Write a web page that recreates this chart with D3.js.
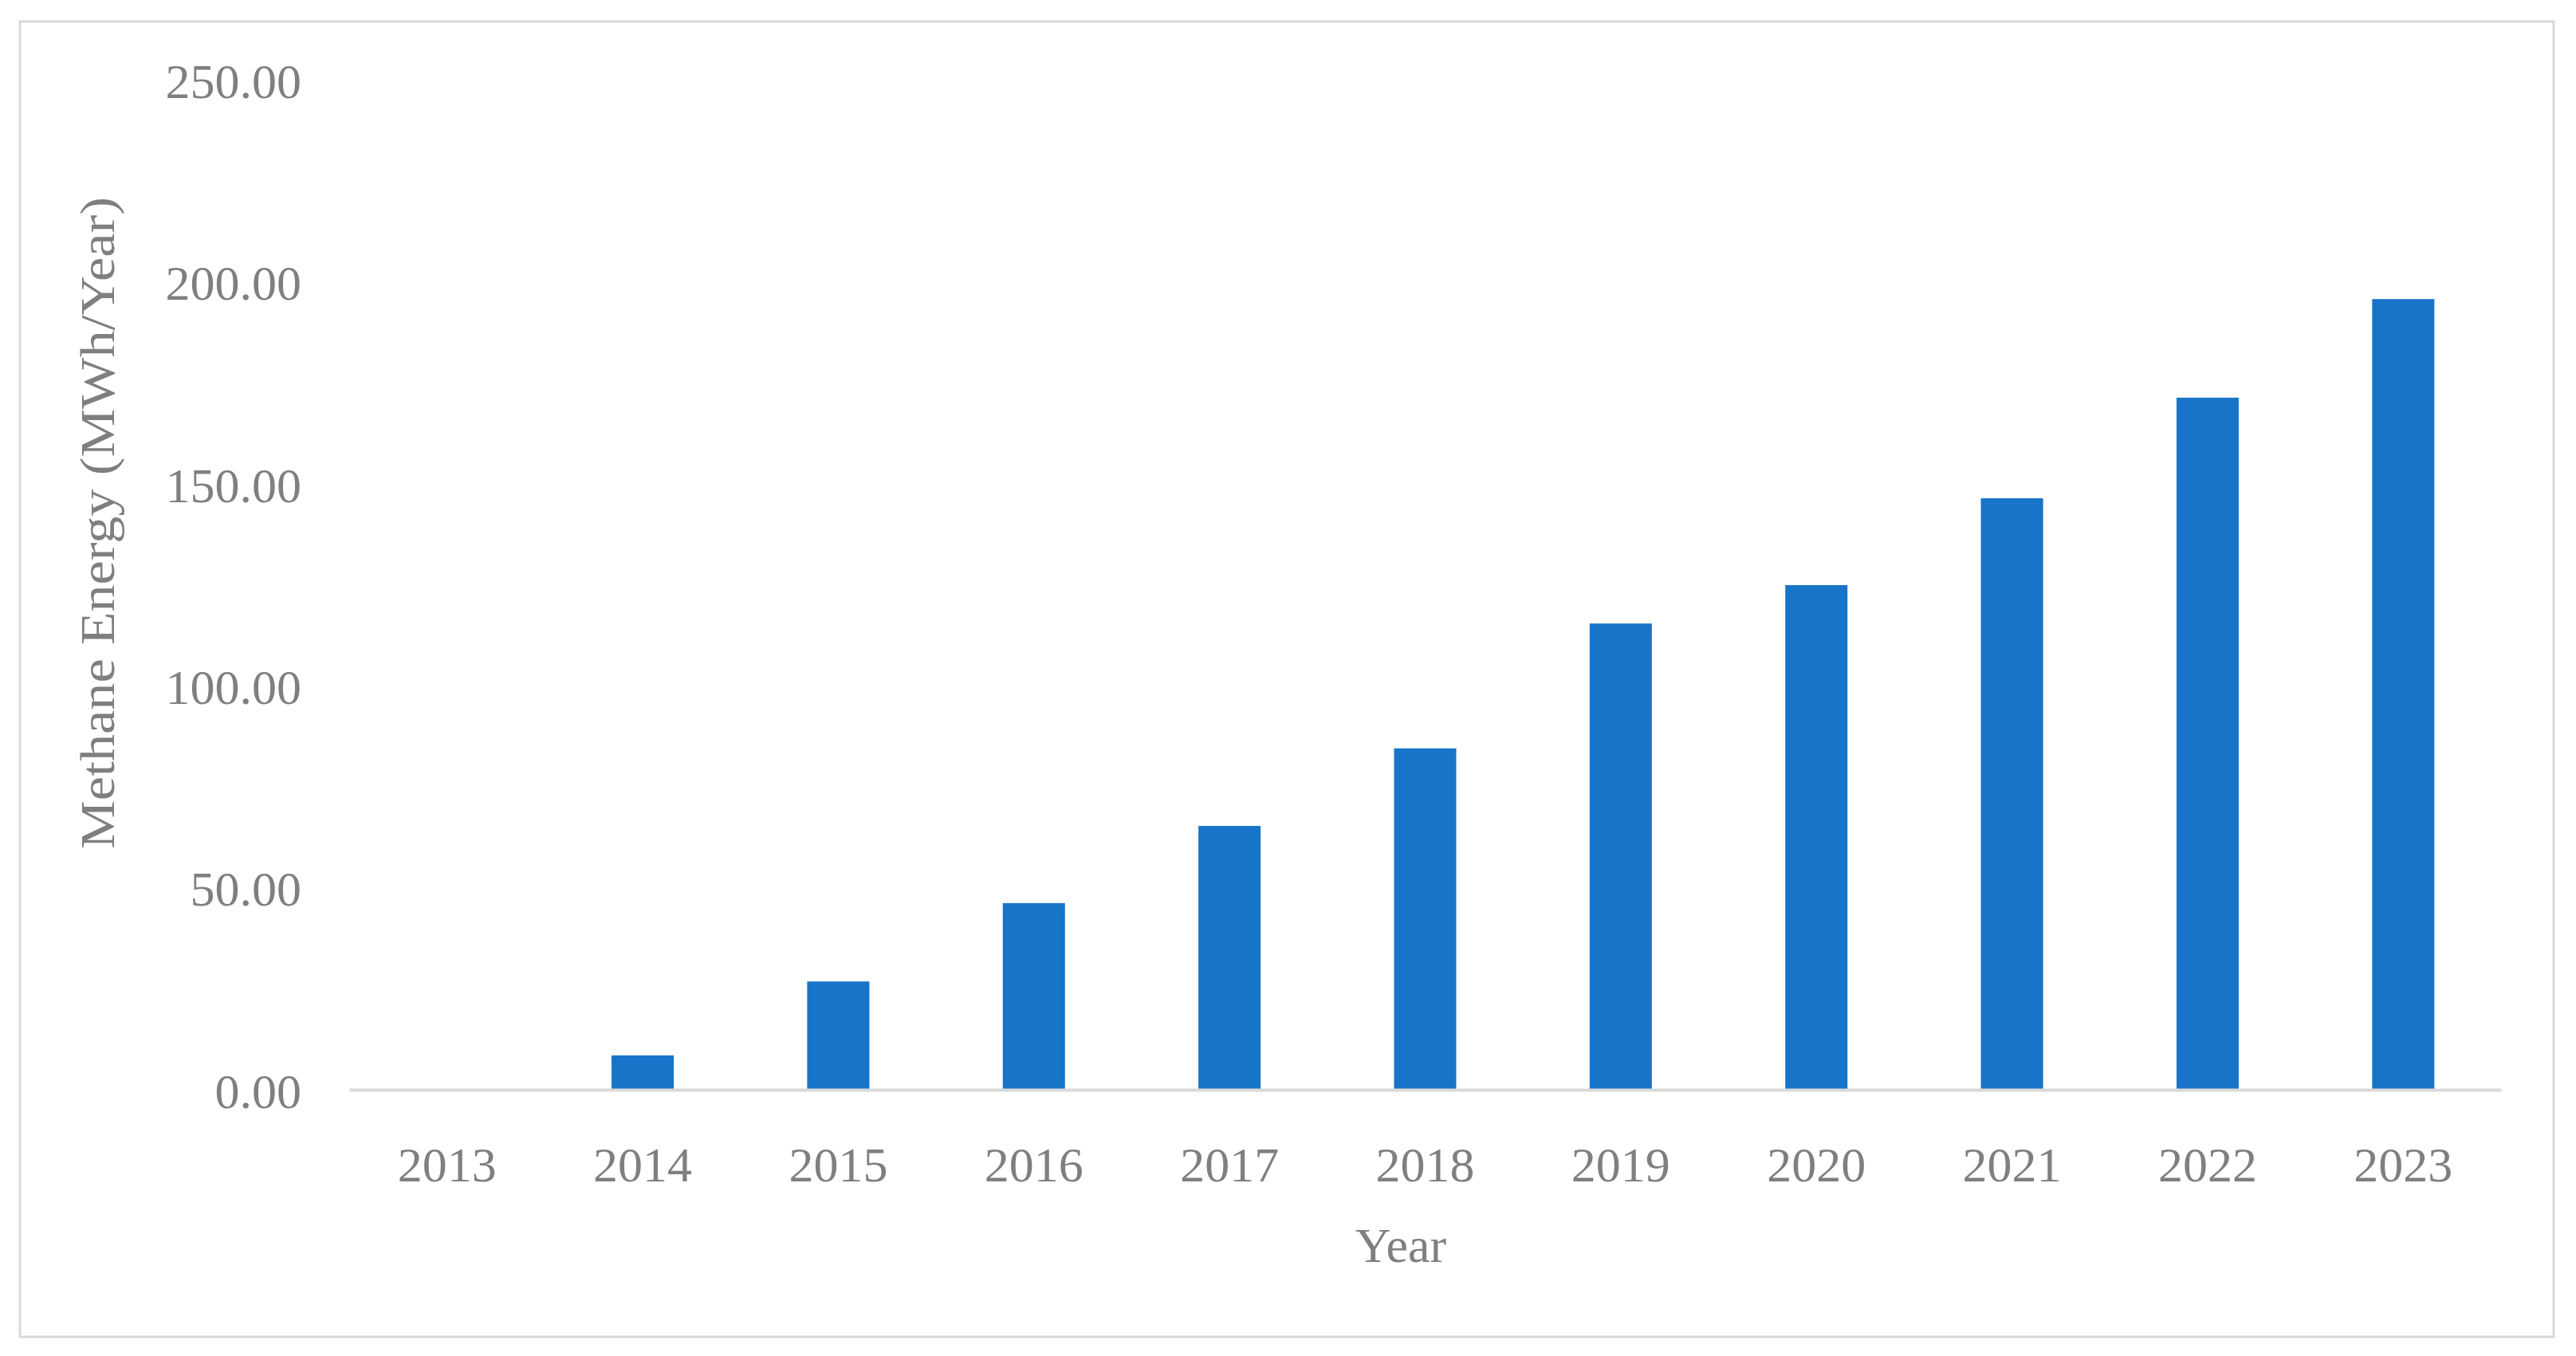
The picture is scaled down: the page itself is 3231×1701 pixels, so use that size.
<!DOCTYPE html>
<html>
<head>
<meta charset="utf-8">
<script src="https://cdn.jsdelivr.net/npm/d3@7"></script>
<style>
  body { margin: 0; background: #ffffff; }
  .chart text { font-family: "Liberation Serif", "Times New Roman", serif; fill: #7f7f7f; }
</style>
</head>
<body>
<div id="chart"></div>
<script>
// chart values
var years = ["2013", "2014", "2015", "2016", "2017", "2018", "2019", "2020", "2021", "2022", "2023"];
var methane = [0, 8.5, 26.8, 46.2, 65.3, 84.5, 115.4, 124.9, 146.4, 171.3, 195.7];
var yTicks = [0, 50, 100, 150, 200, 250];

var width = 3231;
var height = 1701;

var plotLeft = 438;
var plotRight = 3137;
var plotTop = 100;
var plotBottom = 1367;

var svg = d3
  .select("#chart")
  .append("svg")
  .attr("width", width)
  .attr("height", height)
  .attr("class", "chart");

// outer frame
svg
  .append("rect")
  .attr("x", 25)
  .attr("y", 27)
  .attr("width", 3178)
  .attr("height", 1650)
  .attr("fill", "#ffffff")
  .attr("stroke", "#d9d9d9")
  .attr("stroke-width", 3);

var xScale = d3
  .scaleBand()
  .domain(years)
  .range([plotLeft, plotRight])
  .paddingInner(0.682)
  .paddingOuter(0.341);

var yScale = d3
  .scaleLinear()
  .domain([0, 250])
  .range([plotBottom, plotTop]);

// bars
svg
  .append("g")
  .selectAll("rect")
  .data(years)
  .enter()
  .append("rect")
  .attr("x", function(d) {
    return xScale(d);
  })
  .attr("y", function(d, i) {
    return yScale(methane[i]);
  })
  .attr("width", xScale.bandwidth())
  .attr("height", function(d, i) {
    return plotBottom - yScale(methane[i]);
  })
  .attr("fill", "#1874c8");

// y axis (labels only)
var yAxis = d3
  .axisLeft(yScale)
  .tickValues(yTicks)
  .tickFormat(d3.format(".2f"))
  .tickSize(0)
  .tickPadding(60);

var yG = svg
  .append("g")
  .attr("class", "yAxis")
  .attr("transform", "translate(" + plotLeft + ",0)")
  .call(yAxis);
yG.select(".domain").remove();
yG.selectAll("text")
  .attr("font-size", 62)
  .attr("dy", "0.36em");

// x axis, with the grey base line
var xAxis = d3.axisBottom(xScale).tickSize(0).tickSizeOuter(0);

var xG = svg
  .append("g")
  .attr("class", "xAxis")
  .attr("transform", "translate(0," + plotBottom + ")")
  .call(xAxis);
xG.select(".domain")
  .attr("stroke", "#d9d9d9")
  .attr("stroke-width", 4);
xG.selectAll("text")
  .attr("font-size", 62)
  .attr("y", 115)
  .attr("dy", 0);

// axis titles
svg
  .append("text")
  .attr("x", 1757)
  .attr("y", 1583)
  .attr("text-anchor", "middle")
  .attr("font-size", 62)
  .text("Year");

svg
  .append("text")
  .attr("transform", "translate(143,656)rotate(-90)")
  .attr("text-anchor", "middle")
  .attr("font-size", 62)
  .attr("textLength", 818)
  .attr("lengthAdjust", "spacingAndGlyphs")
  .text("Methane Energy (MWh/Year)");
</script>
</body>
</html>
